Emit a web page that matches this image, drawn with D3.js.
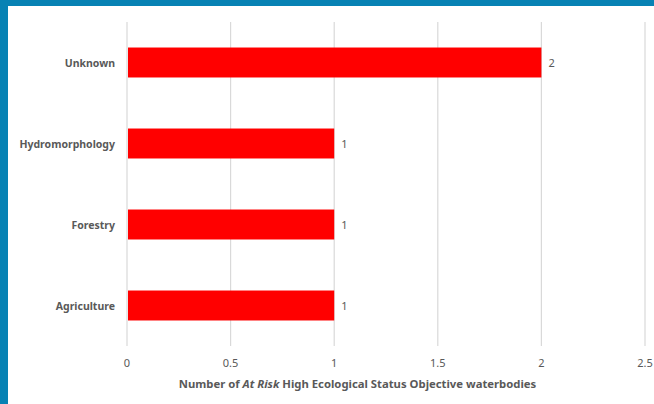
<!DOCTYPE html>
<html>
<head>
<meta charset="utf-8">
<script src="https://cdn.jsdelivr.net/npm/d3@7"></script>
<style>
  body { margin: 0; background: #fff; }
  svg { display: block; }
</style>
</head>
<body>
<svg id="chart" width="654" height="404"></svg>
<script>
// data
var categories = ["Unknown", "Hydromorphology", "Forestry", "Agriculture"];
var counts = [2, 1, 1, 1];
var xTicks = [0, 0.5, 1, 1.5, 2, 2.5];

var svg = d3.select("#chart");
var W = 654, H = 404;
var plotLeft = 127, plotRight = 645, plotTop = 22, plotBottom = 346;
var font = "'Noto Sans', 'Liberation Sans', sans-serif";
var grey = "#595959";

// frame: blue strip on the left and top
svg.append("rect").attr("x", 0).attr("y", 0).attr("width", W).attr("height", 6).attr("fill", "#0782b4");
svg.append("rect").attr("x", 0).attr("y", 0).attr("width", 8).attr("height", H).attr("fill", "#0782b4");

var x = d3.scaleLinear().domain([0, 2.5]).range([plotLeft, plotRight]);
var y = d3.scaleBand().domain(categories).range([plotTop, plotBottom]).paddingInner(0.63).paddingOuter(0.315);

// gridlines
svg.append("g").selectAll("line")
    .data(xTicks)
    .enter().append("line")
    .attr("x1", function (d) { return x(d); })
    .attr("x2", function (d) { return x(d); })
    .attr("y1", plotTop)
    .attr("y2", plotBottom)
    .attr("stroke", "#d9d9d9")
    .attr("stroke-width", 1.2);

// tick labels
svg.append("g").selectAll("text")
    .data(xTicks)
    .enter().append("text")
    .attr("x", function (d) { return x(d); })
    .attr("y", 367)
    .attr("text-anchor", "middle")
    .attr("font-family", font)
    .attr("font-size", 11)
    .attr("fill", grey)
    .text(function (d) { return d; });

// bars
svg.append("g").selectAll("rect")
    .data(categories)
    .enter().append("rect")
    .attr("x", x(0) + 1)
    .attr("y", function (d) { return y(d); })
    .attr("width", function (d, i) { return x(counts[i]) - x(0) - 1; })
    .attr("height", y.bandwidth())
    .attr("fill", "#ff0000");

// value labels
svg.append("g").selectAll("text")
    .data(categories)
    .enter().append("text")
    .attr("x", function (d, i) { return x(counts[i]) + 7; })
    .attr("y", function (d) { return y(d) + y.bandwidth() / 2 + 4; })
    .attr("font-family", font)
    .attr("font-size", 11)
    .attr("fill", grey)
    .text(function (d, i) { return counts[i]; });

// category labels
svg.append("g").selectAll("text")
    .data(categories)
    .enter().append("text")
    .attr("x", 115)
    .attr("y", function (d) { return y(d) + y.bandwidth() / 2 + 4; })
    .attr("text-anchor", "end")
    .attr("font-family", font)
    .attr("font-size", 10.5)
    .attr("font-weight", "bold")
    .attr("fill", grey)
    .text(function (d) { return d; });

// axis title
var title = svg.append("text")
    .attr("x", (180 + 535) / 2)
    .attr("y", 388)
    .attr("text-anchor", "middle")
    .attr("font-family", font)
    .attr("font-size", 11.3)
    .attr("font-weight", "bold")
    .attr("fill", grey);
title.append("tspan").text("Number of ");
title.append("tspan").attr("font-style", "italic").text("At Risk");
title.append("tspan").text(" High Ecological Status Objective waterbodies");
</script>
</body>
</html>
